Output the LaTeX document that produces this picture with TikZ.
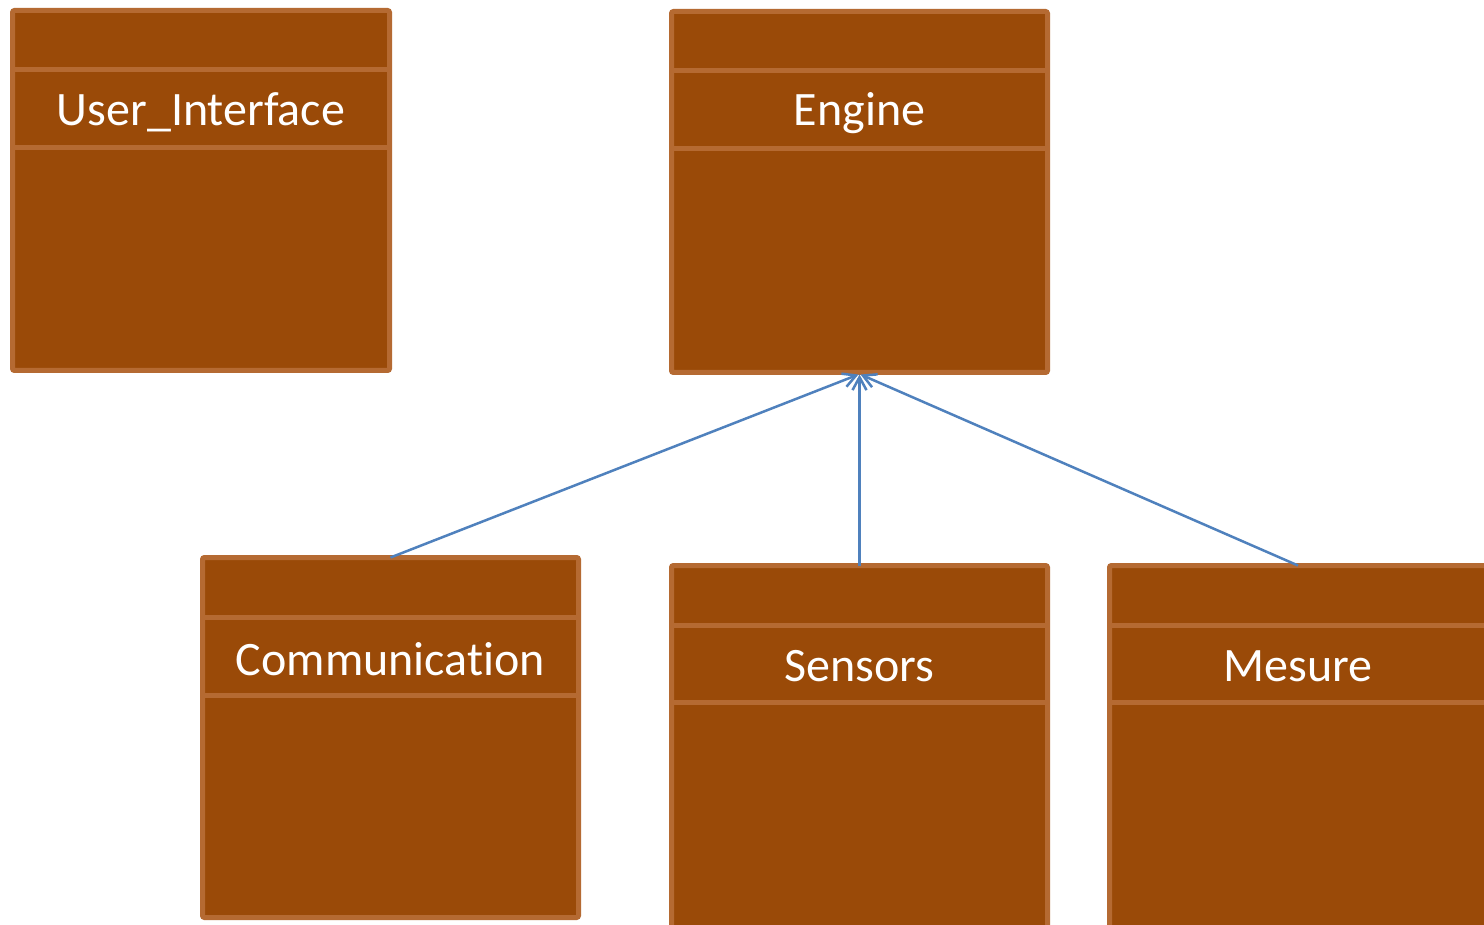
\documentclass[tikz,border=0pt]{standalone}
\usepackage{fontspec}
\setmainfont[Ligatures=NoCommon]{Carlito}
\usetikzlibrary{arrows.meta}
\definecolor{boxfill}{HTML}{9A4A08}
\definecolor{boxedge}{HTML}{B56A32}
\definecolor{link}{HTML}{4F81BD}
\tikzset{
  cls/.style={draw=boxedge, fill=boxfill, line width=5pt, rounded corners=2pt, outer sep=0pt, inner sep=0pt},
  div/.style={draw=boxedge, line width=5pt},
  lbl/.style={text=white, font=\fontsize{48}{58}\selectfont, inner sep=0pt},
  gen/.style={draw=link, line width=2.5pt, -{Straight Barb[length=13pt,width=14pt,line width=2.5pt]}}
}
\begin{document}
\begin{tikzpicture}[x=1pt,y=-1pt]
\clip (0,0) rectangle (1484,925);
\fill[white] (0,0) rectangle (1484,925);
% User_Interface
\node[cls, minimum width=377pt, minimum height=360pt] (ui) at (201,190.5) {};
\draw[div] (ui.west |- 0,70) -- (ui.east |- 0,70);
\draw[div] (ui.west |- 0,148) -- (ui.east |- 0,148);
\node[lbl] (uit) at (201,112) {User\_Interface};
% Engine
\node[cls, minimum width=376pt, minimum height=361pt] (eng) at (859.5,192) {};
\draw[div] (eng.west |- 0,71) -- (eng.east |- 0,71);
\draw[div] (eng.west |- 0,149) -- (eng.east |- 0,149);
\node[lbl] (engt) at (859.5,113) {Engine};
% Communication
\node[cls, minimum width=376pt, minimum height=360pt] (com) at (390.5,737.5) {};
\draw[div] (com.west |- 0,617) -- (com.east |- 0,617);
\draw[div] (com.west |- 0,695) -- (com.east |- 0,695);
\node[lbl] (comt) at (390.5,659) {Communication};
% Sensors
\node[cls, minimum width=376pt, minimum height=400pt] (sen) at (859.5,765.5) {};
\draw[div] (sen.west |- 0,625) -- (sen.east |- 0,625);
\draw[div] (sen.west |- 0,702) -- (sen.east |- 0,702);
\node[lbl] (sent) at (859.5,666) {Sensors};
% Mesure
\node[cls, minimum width=377pt, minimum height=400pt] (mes) at (1298,765.5) {};
\draw[div] (mes.west |- 0,625) -- (mes.east |- 0,625);
\draw[div] (mes.west |- 0,702) -- (mes.east |- 0,702);
\node[lbl] (mest) at (1298,666) {Mesure};
% generalisations
\coordinate (tip) at ([yshift=-2pt]eng.south);
\draw[gen] (com.north) -- ([xshift=-1pt]tip);
\draw[gen] (sen.north) -- (tip);
\draw[gen] (mes.north) -- ([xshift=1pt]tip);
\end{tikzpicture}
\end{document}
